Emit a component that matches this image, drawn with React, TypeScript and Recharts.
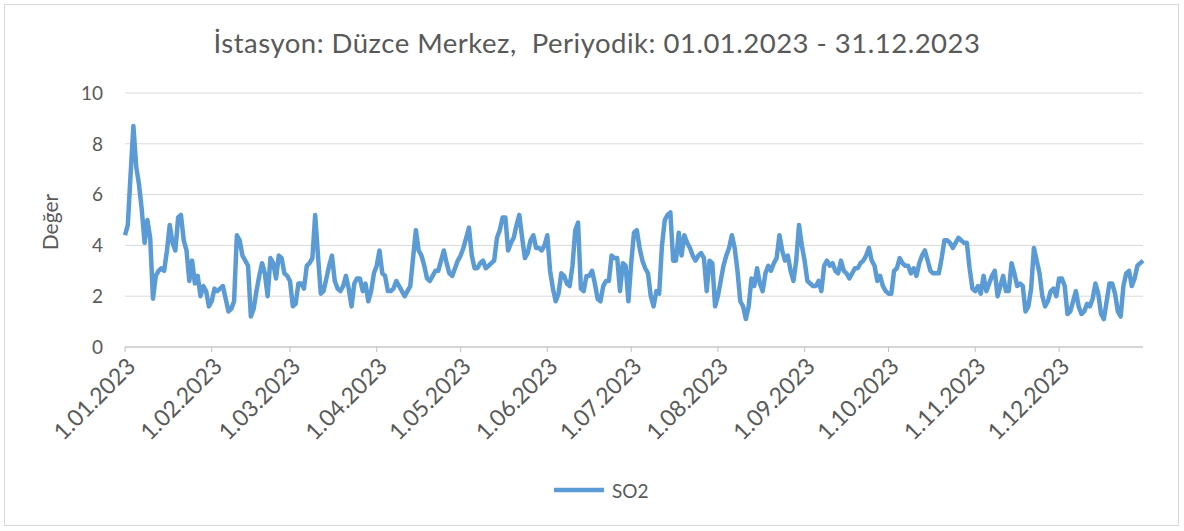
import { LineChart, Line, XAxis, YAxis, CartesianGrid, Label } from 'recharts';

// daily SO2 values, one array per month
const jan = [4.4, 4.8, 6.8, 8.7, 7.1, 6.4, 5.4, 4.1, 5.0, 4.3, 1.9, 2.8, 3.0, 3.1, 3.0, 3.8, 4.8, 4.1, 3.8, 5.1, 5.2, 4.2, 3.8, 2.6, 3.4, 2.5, 2.8, 2.0, 2.4, 2.2, 1.6];
const feb = [1.8, 2.3, 2.2, 2.3, 2.4, 1.9, 1.4, 1.5, 1.8, 4.4, 4.2, 3.6, 3.4, 3.2, 1.2, 1.5, 2.2, 2.8, 3.3, 2.9, 2.0, 3.5, 3.3, 2.7, 3.6, 3.5, 2.9, 2.8];
const mar = [2.6, 1.6, 1.7, 2.5, 2.5, 2.3, 3.2, 3.3, 3.5, 5.2, 3.6, 2.1, 2.2, 2.7, 3.2, 3.6, 2.6, 2.3, 2.2, 2.4, 2.8, 2.3, 1.6, 2.5, 2.7, 2.7, 2.2, 2.5, 1.8, 2.2, 2.9];
const apr = [3.2, 3.8, 2.9, 2.8, 2.2, 2.2, 2.3, 2.6, 2.4, 2.2, 2.0, 2.2, 2.4, 3.5, 4.6, 3.8, 3.6, 3.2, 2.7, 2.6, 2.8, 3.0, 3.0, 3.4, 3.8, 3.3, 2.9, 2.8, 3.1, 3.4];
const may = [3.6, 3.9, 4.3, 4.7, 3.6, 3.1, 3.1, 3.3, 3.4, 3.1, 3.2, 3.3, 3.4, 4.3, 4.6, 5.1, 5.1, 3.8, 4.1, 4.3, 4.8, 5.2, 4.3, 3.5, 3.7, 4.2, 4.4, 3.9, 3.9, 3.8, 4.0];
const jun = [4.4, 3.0, 2.3, 1.8, 2.1, 2.9, 2.8, 2.5, 2.4, 3.2, 4.6, 4.9, 2.3, 2.2, 2.8, 2.8, 3.0, 2.5, 1.9, 1.8, 2.4, 2.6, 2.6, 3.6, 3.5, 3.5, 2.2, 3.3, 3.2, 1.8];
const jul = [3.3, 4.5, 4.6, 3.9, 3.4, 3.1, 2.9, 2.0, 1.6, 2.2, 2.1, 4.0, 5.0, 5.2, 5.3, 3.4, 3.4, 4.5, 3.6, 4.4, 4.1, 3.9, 3.6, 3.4, 3.6, 3.7, 3.5, 2.2, 3.4, 3.3, 1.6];
const aug = [2.0, 2.6, 3.2, 3.6, 3.9, 4.4, 3.9, 3.0, 1.8, 1.6, 1.1, 1.6, 2.7, 2.4, 3.1, 2.5, 2.2, 2.9, 3.2, 3.0, 3.3, 3.5, 4.4, 3.8, 3.4, 3.6, 3.0, 2.6, 3.4, 4.8, 4.0];
const sep = [3.4, 2.6, 2.5, 2.4, 2.4, 2.6, 2.2, 3.2, 3.4, 3.2, 3.3, 3.0, 2.9, 3.4, 3.0, 2.9, 2.7, 2.9, 3.1, 3.1, 3.3, 3.4, 3.6, 3.9, 3.4, 3.2, 2.6, 2.8, 2.4, 2.2];
const oct = [2.1, 2.1, 3.0, 3.1, 3.5, 3.3, 3.2, 3.2, 2.9, 3.1, 2.8, 3.3, 3.6, 3.8, 3.4, 3.0, 2.9, 2.9, 2.9, 3.5, 4.2, 4.2, 4.1, 3.9, 4.1, 4.3, 4.2, 4.1, 4.1, 3.1, 2.3];
const nov = [2.2, 2.4, 2.1, 2.8, 2.2, 2.5, 2.8, 3.0, 2.0, 2.4, 2.8, 2.2, 2.2, 3.3, 2.9, 2.4, 2.5, 2.4, 1.4, 1.6, 2.3, 3.9, 3.4, 2.9, 2.0, 1.6, 1.8, 2.2, 2.3, 2.0];
const dec = [2.7, 2.7, 2.4, 1.3, 1.4, 1.8, 2.2, 1.6, 1.3, 1.4, 1.7, 1.6, 1.9, 2.5, 2.1, 1.3, 1.1, 1.8, 2.5, 2.5, 2.1, 1.4, 1.2, 2.4, 2.9, 3.0, 2.4, 2.7, 3.2, 3.3, 3.4];

const months = [jan, feb, mar, apr, may, jun, jul, aug, sep, oct, nov, dec];

const xTicks = ['1.01.2023', '1.02.2023', '1.03.2023', '1.04.2023', '1.05.2023', '1.06.2023', '1.07.2023', '1.08.2023', '1.09.2023', '1.10.2023', '1.11.2023', '1.12.2023'];
const yTicks = [0, 2, 4, 6, 8, 10];

const title = 'İstasyon: Düzce Merkez,  Periyodik: 01.01.2023 - 31.12.2023';
const seriesName = 'SO2';

const font = 'Lato, Carlito, Calibri, "Liberation Sans", sans-serif';
const textColor = '#595959';
const lineColor = '#5b9bd5';

const data = months.flatMap((vals, m) =>
  vals.map((v, d) => ({
    date: `${d + 1}.${String(m + 1).padStart(2, '0')}.2023`,
    SO2: v,
  }))
);

function DateTick(props: any) {
  const { x, y, payload } = props;
  return (
    <g transform={`translate(${x + 2},${y + 4})`}>
      <text x={0} y={0} dy={14} textAnchor="end" transform="rotate(-45)" fill={textColor} fontSize={23} fontFamily={font}>
        {payload.value}
      </text>
    </g>
  );
}

export default function App() {
  return (
    <div style={{ position: 'absolute', left: 0, top: 0, width: 1184, height: 531, background: '#fff', fontFamily: font }}>
      <div style={{ position: 'absolute', left: 4, top: 4, width: 1175, height: 522, border: '1px solid #d9d9d9', boxSizing: 'border-box' }} />
      <div style={{ position: 'absolute', left: 10, top: 26, width: 1174, textAlign: 'center', fontSize: 27.5, letterSpacing: 0.5, color: textColor, whiteSpace: 'pre' }}>
        {title}
      </div>
      <LineChart width={1184} height={531} data={data} margin={{ top: 93, right: 41, left: 0, bottom: 0 }}>
        <CartesianGrid vertical={false} stroke="#d9d9d9" />
        <XAxis
          dataKey="date"
          ticks={xTicks}
          interval={0}
          height={184}
          tick={<DateTick />}
          tickSize={5}
          tickLine={{ stroke: '#bfbfbf' }}
          axisLine={{ stroke: '#bfbfbf' }}
        />
        <YAxis
          domain={[0, 10]}
          ticks={yTicks}
          width={125}
          axisLine={false}
          tickLine={false}
          tickSize={0}
          tickMargin={22}
          tick={{ fill: textColor, fontSize: 19, fontFamily: font }}
        >
          <Label
            content={() => (
              <text x={58} y={222} transform="rotate(-90 58 222)" textAnchor="middle" fill={textColor} fontSize={21} fontFamily={font}>
                Değer
              </text>
            )}
          />
        </YAxis>
        <Line
          type="linear"
          dataKey="SO2"
          stroke={lineColor}
          strokeWidth={4.5}
          strokeLinejoin="round"
          dot={false}
          isAnimationActive={false}
        />
      </LineChart>
      <div style={{ position: 'absolute', left: 553, top: 478, display: 'flex', alignItems: 'center', height: 24 }}>
        <svg width={52} height={24}>
          <line x1={1} y1={12} x2={51} y2={12} stroke={lineColor} strokeWidth={4.5} />
        </svg>
        <span style={{ marginLeft: 7, fontSize: 19, color: textColor }}>{seriesName}</span>
      </div>
    </div>
  );
}
